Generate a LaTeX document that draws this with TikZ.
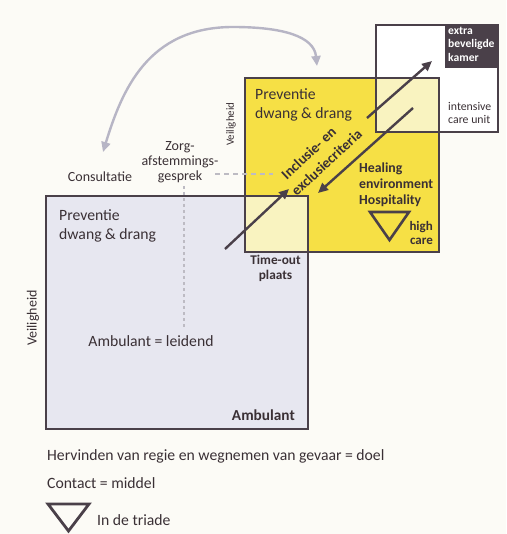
\documentclass[tikz,border=0pt]{standalone}
\usepackage{fontspec}
\setmainfont{Carlito}
\usetikzlibrary{arrows.meta}
\definecolor{bgc}{HTML}{FCFBF6}
\definecolor{edge}{HTML}{4A4049}
\definecolor{txt}{HTML}{3A3035}
\definecolor{lav}{HTML}{E7E7F0}
\definecolor{yel}{HTML}{F6E045}
\definecolor{lyel}{HTML}{F9F3C0}
\definecolor{dark}{HTML}{4A4049}
\definecolor{curvec}{HTML}{B7B5C5}
\definecolor{dashc}{HTML}{BDBBC3}
\tikzset{
  box/.style={rectangle, draw=edge, line width=2.2pt, inner sep=0pt, anchor=north west},
  fillbox/.style={rectangle, inner sep=0pt, anchor=north west},
  darr/.style={draw=edge, line width=2.4pt, -{Triangle[length=10pt,width=9pt]}},
  garr/.style={draw=curvec, line width=2.4pt, {Triangle[length=10pt,width=9pt]}-{Triangle[length=10pt,width=9pt]}},
  lbl/.style={text=txt, inner sep=0pt, font=\fontsize{15.7}{19}\selectfont},
  slbl/.style={text=txt, inner sep=0pt, font=\fontsize{14}{15}\selectfont},
  blbl/.style={text=txt, inner sep=0pt, font=\bfseries\fontsize{13.8}{16}\selectfont},
  rlbl/.style={text=txt, inner sep=0pt, anchor=base, rotate=43, font=\bfseries\fontsize{14.5}{16}\selectfont},
}
\begin{document}
\begin{tikzpicture}[x=1pt,y=-1pt]
\fill[bgc] (0,0) rectangle (506,534);
\useasboundingbox (0,0) rectangle (506,534);
% fills
\node[fillbox, fill=lav, minimum width=262pt, minimum height=233pt] (ambf) at (45,195) {};
\node[fillbox, fill=yel, minimum width=194pt, minimum height=174pt] (yelf) at (244,77) {};
\node[fillbox, fill=white, minimum width=122pt, minimum height=107pt] (icuf) at (375,24) {};
\node[fillbox, fill=lyel, minimum width=63pt, minimum height=56pt] (tof) at (244,195) {};
\node[fillbox, fill=lyel, minimum width=63pt, minimum height=54pt] (ixf) at (375,77) {};
\node[fillbox, fill=dark, minimum width=52pt, minimum height=44pt] (ebk) at (445,24) {};
% borders
\node[box, minimum width=262pt, minimum height=233pt] (amb) at (45,195) {};
\node[box, minimum width=194pt, minimum height=174pt] (yelb) at (244,77) {};
\node[box, minimum width=122pt, minimum height=107pt] (icu) at (375,24) {};
% texts in ICU
\node[anchor=north west, inner sep=0pt, align=left, text=white, font=\bfseries\fontsize{11.6}{13.5}\selectfont] (ebkt) at (448,26.5) {extra\\beveligde\\kamer};
\node[anchor=north west, inner sep=0pt, align=left, text=txt, font=\fontsize{11.8}{13.5}\selectfont] (icut) at (448,102) {intensive\\care unit};
% yellow box texts
\node[lbl, anchor=north west, align=left] (prev2) at (255,88) {Preventie\\dwang \& drang};
\node[blbl, anchor=north west, align=left] (heal) at (359,162.5) {Healing\\environment\\Hospitality};
\node[blbl, anchor=north east, align=right, font=\bfseries\fontsize{13}{14}\selectfont] (hc) at (433,221.5) {high\\care};
\draw[edge, line width=2.6pt, line join=miter] (370,212) -- (409,212) -- (389.5,240) -- cycle;
\node[rlbl] (incl1) at (312,157) {Inclusie- en};
\node[rlbl] (incl2) at (330,166) {exclusiecriteria};
% time-out
\node[blbl, align=center, anchor=north, font=\bfseries\fontsize{13.3}{14.5}\selectfont] (tot) at (275.5,255) {Time-out\\plaats};
% ambulant texts
\node[lbl, anchor=north west, align=left] (prev1) at (59,209) {Preventie\\dwang \& drang};
\node[lbl] (leid) at (151,341) {Ambulant = leidend};
\node[blbl, anchor=east, font=\bfseries\fontsize{15.3}{16}\selectfont] (ambt) at (295,415) {Ambulant};
\node[lbl, rotate=90, font=\fontsize{14}{16}\selectfont] (veil1) at (33,318) {Veiligheid};
\node[slbl, rotate=90, font=\fontsize{11}{13}\selectfont] (veil2) at (231,124) {Veiligheid};
% left labels
\node[slbl] (cons) at (100,177) {Consultatie};
\node[slbl, align=center] (zorg) at (180,162) {Zorg-\\afstemmings-\\gesprek};
\coordinate (dh1) at (215,174);
\coordinate (dh2) at (273,174);
\draw[dashc, line width=1.8pt, dash pattern=on 5pt off 4pt] (dh1) -- (dh2);
\coordinate (dv1) at (184,186);
\coordinate (dv2) at (184,328);
\draw[dashc, line width=1.5pt, dash pattern=on 3pt off 3pt] (dv1) -- (dv2);
% arrows
\coordinate (a1s) at (225,249);
\coordinate (a1e) at (289,189);
\draw[darr] (a1s) -- (a1e);
\coordinate (a2s) at (367,118);
\coordinate (a2e) at (432,61);
\draw[darr] (a2s) -- (a2e);
\coordinate (a3s) at (413,108);
\coordinate (a3e) at (318,193);
\draw[darr] (a3s) -- (a3e);
% curved arrow
\coordinate (c1) at (103,152);
\coordinate (cpk) at (233,27);
\coordinate (c2) at (317,66);
\draw[garr] (c1) .. controls (122,90) and (148,27) .. (cpk) .. controls (282,27) and (314,36) .. (c2);
% bottom
\node[lbl, anchor=west] (herv) at (47,456) {Hervinden van regie en wegnemen van gevaar = doel};
\node[lbl, anchor=west] (cont) at (47,483) {Contact = middel};
\draw[edge, line width=2.8pt, line join=miter] (48,504) -- (89,504) -- (68.5,531) -- cycle;
\node[lbl, anchor=west] (tri) at (97,520) {In de triade};
\end{tikzpicture}
\end{document}
